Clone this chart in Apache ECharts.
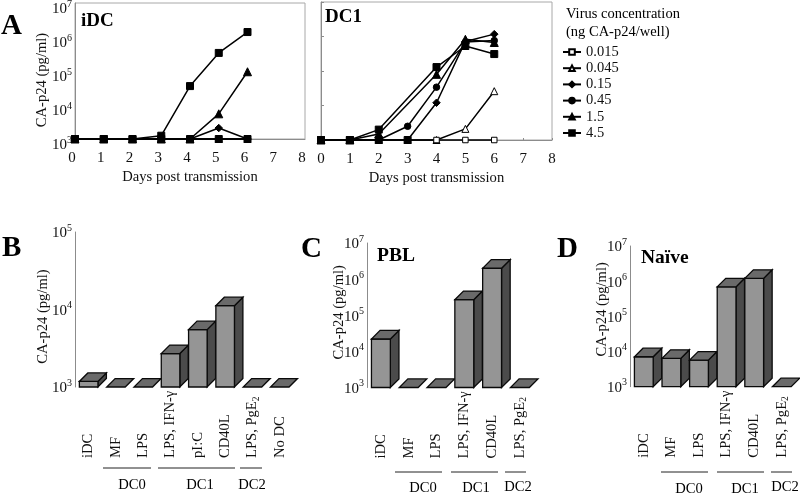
<!DOCTYPE html>
<html>
<head>
<meta charset="utf-8">
<style>html,body{margin:0;padding:0;background:#fff}#c{width:800px;height:498px}</style>
<script src="https://cdn.jsdelivr.net/npm/echarts@6/dist/echarts.min.js"></script>
</head>
<body>
<div id="c"></div>
<script>
const days = [0, 1, 2, 3, 4, 5, 6];
const concentrations = ['0.015', '0.045', '0.15', '0.45', '1.5', '4.5'];

const iDC_015 = [1000, 1000, 1000, 1000, 1000, 1000, 1000];
const iDC_045 = [1000, 1000, 1000, 1000, 1000, 1000, 1000];
const iDC_15 = [1000, 1000, 1000, 1000, 1000, 2100, 1000];
const iDC_45 = [1000, 1000, 1000, 1000, 1000, 1000, 1000];
const iDC_1p5 = [1000, 1000, 1000, 1000, 1000, 5500, 95000];
const iDC_4p5 = [1000, 1000, 1000, 1250, 36000, 340000, 1400000];

const DC1_015 = [1000, 1000, 1000, 1000, 1000, 1000, 1000];
const DC1_045 = [1000, 1000, 1000, 1000, 1000, 2100, 26000];
const DC1_15 = [1000, 1000, 1000, 1000, 12000, 720000, 1170000];
const DC1_45 = [1000, 1000, 1000, 2500, 34000, 690000, 760000];
const DC1_1p5 = [1000, 1000, 1500, null, 80000, 830000, 670000];
const DC1_4p5 = [1000, 1000, 2000, null, 130000, 530000, 310000];

const catB = ['iDC', 'MF', 'LPS', 'LPS, IFN-γ', 'pI:C', 'CD40L', 'LPS, PgE2', 'No DC'];
const valB = [1180, 1000, 1000, 2700, 5500, 11200, 1000, 1000];
const catC = ['iDC', 'MF', 'LPS', 'LPS, IFN-γ', 'CD40L', 'LPS, PgE2'];
const valC = [22000, 1000, 1000, 270000, 2000000, 1000];
const catD = ['iDC', 'MF', 'LPS', 'LPS, IFN-γ', 'CD40L', 'LPS, PgE2'];
const valD = [7100, 6400, 5700, 690000, 1200000, 1000];

const FONT = '"Liberation Serif","Times New Roman",serif';
const AXIS = '#8c8c8c';
const TXT = 14.6;

function exponentLabel(v) {
  const e = Math.round(Math.log10(v));
  return '{b|10}{s|' + e + '}';
}
const expRich = {
  b: {fontFamily: FONT, fontSize: 15, color: '#111', lineHeight: 18, verticalAlign: 'bottom'},
  s: {fontFamily: FONT, fontSize: 10, color: '#111', lineHeight: 18, verticalAlign: 'top'}
};
const subRich = {
  t: {fontFamily: FONT, fontSize: TXT, color: '#111', lineHeight: 18},
  u: {fontFamily: FONT, fontSize: 9.5, color: '#111', lineHeight: 18, verticalAlign: 'bottom', padding: [6, 0, 0, 0]}
};

const gridBase = {outerBoundsMode: 'none', containLabel: false};
const grids = [
  Object.assign({left: 75, top: 3, width: 230, height: 136, show: true, borderColor: '#a8a8a8', borderWidth: 1, backgroundColor: 'transparent'}, gridBase),
  Object.assign({left: 321, top: 2, width: 231, height: 138, show: true, borderColor: '#a8a8a8', borderWidth: 1, backgroundColor: 'transparent'}, gridBase),
  Object.assign({left: 75, top: 232, width: 218.4, height: 155}, gridBase),
  Object.assign({left: 367, top: 243, width: 166.8, height: 144.5}, gridBase),
  Object.assign({left: 630, top: 246, width: 165.6, height: 140.7}, gridBase)
];

function lineX(i, labelPad, name, ticks) {
  return {
    type: 'value', gridIndex: i, min: 0, max: 8, interval: 1,
    name: name, nameLocation: 'middle', nameGap: 31, nameMoveOverlap: false,
    nameTextStyle: {fontFamily: FONT, fontSize: TXT, color: '#111'},
    axisLine: {lineStyle: {color: AXIS}},
    axisTick: {show: ticks, inside: true, length: 2, lineStyle: {color: AXIS}},
    splitLine: {show: false},
    axisLabel: {fontFamily: FONT, fontSize: 15, color: '#111', margin: 12, padding: labelPad, showMinLabel: true, showMaxLabel: true}
  };
}
function barX(i, cats) {
  return {
    type: 'category', gridIndex: i, data: cats,
    axisLine: {show: false}, axisTick: {show: false}, splitLine: {show: false},
    axisLabel: {
      interval: 0, rotate: 90, align: 'left', verticalAlign: 'middle', margin: 71, rich: subRich,
      fontFamily: FONT, fontSize: TXT, color: '#111',
      formatter: v => v.endsWith('PgE2') ? '{t|' + v.slice(0, -1) + '}{u|2}' : '{t|' + v + '}'
    }
  };
}
function logY(i, maxV, labels, nameGap, namePad, labelPad) {
  const named = labels ? {
    name: 'CA-p24 (pg/ml)', nameLocation: 'middle', nameGap: nameGap, nameMoveOverlap: false,
    nameTextStyle: {fontFamily: FONT, fontSize: TXT, color: '#111', padding: namePad}
  } : {};
  return Object.assign({
    type: 'log', logBase: 10, gridIndex: i, min: 1000, max: maxV,
    axisLine: {show: true, lineStyle: {color: AXIS}},
    axisTick: {show: !labels, inside: true, length: 3, lineStyle: {color: AXIS}},
    splitLine: {show: false}, minorTick: {show: false}, minorSplitLine: {show: false},
    axisLabel: {show: labels, margin: 3, padding: labelPad || 0, formatter: exponentLabel, rich: expRich, showMinLabel: true, showMaxLabel: true}
  }, named);
}

const markers = {
  '0.015': {symbol: 'rect', size: 5.5, fill: '#fff', z: 4},
  '0.045': {symbol: 'triangle', size: 7, fill: '#fff', z: 3},
  '0.15': {symbol: 'diamond', size: 7.5, fill: '#000', z: 3},
  '0.45': {symbol: 'circle', size: 6.5, fill: '#000', z: 3},
  '1.5': {symbol: 'triangle', size: 8, fill: '#000', z: 3},
  '4.5': {symbol: 'rect', size: 7, fill: '#000', z: 5}
};
// solidDays: days on which overlapping black square markers hide the open 0.015 symbol in the picture
function lineSeries(name, vals, gi, solidDays) {
  const m = markers[name];
  return {
    type: 'line', name: name, xAxisIndex: gi, yAxisIndex: gi, z: m.z,
    data: days.map((d, k) => {
      const it = {value: [d, vals[k]]};
      if (solidDays && solidDays.includes(d)) {
        it.symbolSize = 7;
        it.itemStyle = {color: '#000', borderColor: '#000'};
      }
      return it;
    }),
    connectNulls: true, clip: false, animation: false,
    symbol: m.symbol, symbolSize: m.size, showSymbol: true,
    lineStyle: {color: '#000', width: 1.5},
    itemStyle: {color: m.fill, borderColor: '#000', borderWidth: 1, opacity: 1}
  };
}
function barSeries(vals, gi) {
  return {
    type: 'custom', xAxisIndex: gi, yAxisIndex: gi, clip: false, animation: false,
    data: vals.map((v, k) => [k, v]),
    encode: {x: 0, y: 1},
    renderItem: function (params, api) {
      const band = api.size([1, 0])[0];
      const w = band * 0.68, d = band * 0.31;
      const c = api.coord([api.value(0), api.value(1)]);
      const b = api.coord([api.value(0), 1000]);
      const l = c[0] - w / 2, r = c[0] + w / 2, t = c[1], y0 = b[1];
      const s = {stroke: '#0a0a0a', lineWidth: 1.3};
      const kids = [];
      if (y0 - t > 0.5) {
        kids.push({type: 'polygon', shape: {points: [[r, t], [r + d, t - d], [r + d, y0 - d], [r, y0]]}, style: Object.assign({fill: '#4b4b4b'}, s)});
        kids.push({type: 'polygon', shape: {points: [[l, t], [r, t], [r, y0], [l, y0]]}, style: Object.assign({fill: '#959595'}, s)});
      }
      kids.push({type: 'polygon', shape: {points: [[l, t], [r, t], [r + d, t - d], [l + d, t - d]]}, style: Object.assign({fill: '#6a6a6a'}, s)});
      return {type: 'group', children: kids};
    }
  };
}

function txt(x, y, text, size, weight, align) {
  return {type: 'text', x: x, y: y, silent: true, style: {
    text: text, fontFamily: FONT, fontSize: size, fontWeight: weight || 'normal',
    fill: '#000', align: align || 'left', verticalAlign: 'middle'}};
}
function rule(x1, x2, y) {
  return {type: 'line', silent: true, shape: {x1: x1, y1: y, x2: x2, y2: y}, style: {stroke: '#222', lineWidth: 1}};
}
const annotations = [
  txt(1, 27, 'A', 29, 'bold'), txt(2, 249, 'B', 29, 'bold'), txt(301, 250, 'C', 29, 'bold'), txt(557, 250, 'D', 29, 'bold'),
  txt(81, 21, 'iDC', 19, 'bold'), txt(325, 17, 'DC1', 19, 'bold'),
  txt(377, 256, 'PBL', 19.5, 'bold'), txt(641, 258, 'Naïve', 19.5, 'bold'),
  txt(566, 14, 'Virus concentration', 14.5), txt(566, 32, '(ng CA-p24/well)', 14.5),
  rule(103, 151, 468), rule(158, 235, 468), rule(240, 262, 468),
  txt(132, 485, 'DC0', TXT, null, 'center'), txt(200, 485, 'DC1', TXT, null, 'center'), txt(252, 485, 'DC2', TXT, null, 'center'),
  rule(395, 442, 472), rule(451, 498, 472), rule(505, 526, 472),
  txt(423, 488, 'DC0', TXT, null, 'center'), txt(476, 488, 'DC1', TXT, null, 'center'), txt(518, 487, 'DC2', TXT, null, 'center'),
  rule(661, 708, 472), rule(717, 764, 472), rule(771, 792, 472),
  txt(689, 489, 'DC0', TXT, null, 'center'), txt(745, 489, 'DC1', TXT, null, 'center'), txt(785, 487, 'DC2', TXT, null, 'center')
];

const chart = echarts.init(document.getElementById('c'), null, {renderer: 'canvas'});
chart.setOption({
  backgroundColor: '#fff',
  animation: false,
  grid: grids,
  legend: {
    orient: 'vertical', left: 557, top: 37, itemWidth: 18, itemHeight: 7, itemGap: -3.8, selectedMode: false,
    data: concentrations,
    textStyle: {fontFamily: FONT, fontSize: 14.5, color: '#111', lineHeight: 15, padding: [5, 0, 0, 0]}
  },
  xAxis: [
    lineX(0, [0, 6, 0, 0], 'Days post transmission', false),
    lineX(1, 0, 'Days post transmission', true),
    barX(2, catB), barX(3, catC), barX(4, catD)
  ],
  yAxis: [
    logY(0, 1e7, true, 25, [0, 18, 0, 0], [10, 0, 0, 0]),
    logY(1, 1e7, false),
    logY(2, 1e5, true, 24, [0, 14, 0, 0]),
    logY(3, 1e7, true, 20, [0, 0, 0, 6]),
    logY(4, 1e7, true, 20, [0, 0, 0, 14])
  ],
  series: [
    lineSeries('0.015', iDC_015, 0, days), lineSeries('0.045', iDC_045, 0), lineSeries('0.15', iDC_15, 0),
    lineSeries('0.45', iDC_45, 0), lineSeries('1.5', iDC_1p5, 0), lineSeries('4.5', iDC_4p5, 0),
    lineSeries('0.015', DC1_015, 1, [0, 1, 2, 3]), lineSeries('0.045', DC1_045, 1), lineSeries('0.15', DC1_15, 1),
    lineSeries('0.45', DC1_45, 1), lineSeries('1.5', DC1_1p5, 1), lineSeries('4.5', DC1_4p5, 1),
    barSeries(valB, 2), barSeries(valC, 3), barSeries(valD, 4)
  ],
  graphic: annotations
});
</script>
</body>
</html>
